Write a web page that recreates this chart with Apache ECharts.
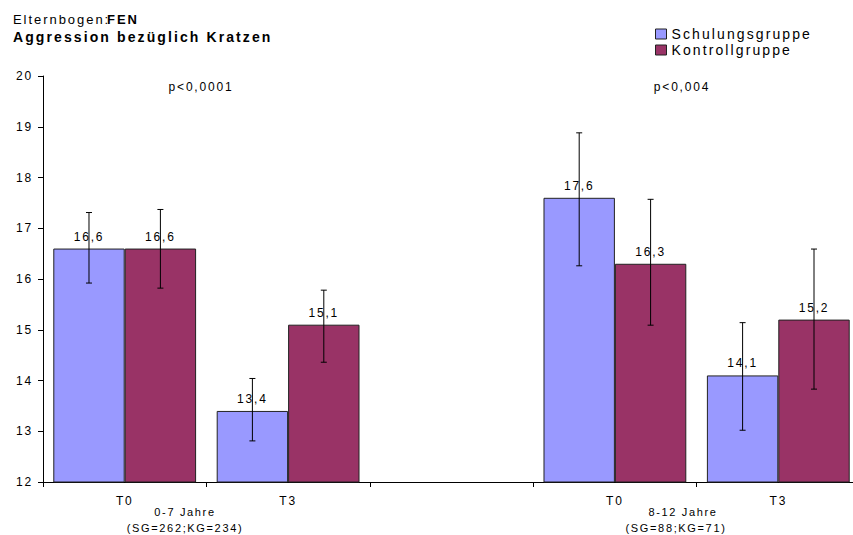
<!DOCTYPE html>
<html>
<head>
<meta charset="utf-8">
<script src="https://cdn.jsdelivr.net/npm/echarts@6/dist/echarts.min.js"></script>
<style>
  html, body { margin: 0; padding: 0; background: #fff; }
  #chart { width: 853px; height: 535px; }
  /* spaced-out lettering used throughout the chart */
  #chart text { letter-spacing: 0.15em; }
</style>
</head>
<body>
<div id="chart"></div>
<script>
// Time points per age group (blank slot separates the two groups)
const categories = ['T0', 'T3', '', 'T0', 'T3'];

// Mean scores
const sgMeans = [16.6, 13.4, null, 17.6, 14.1];   // Schulungsgruppe
const kgMeans = [16.6, 15.1, null, 16.3, 15.2];   // Kontrollgruppe

// Error bar ranges (lower / upper)
const sgLow  = [15.92, 12.81, null, 16.26, 13.02];
const sgHigh = [17.31, 14.04, null, 18.88, 15.14];
const kgLow  = [15.82, 14.36, null, 15.09, 13.83];
const kgHigh = [17.37, 15.78, null, 17.57, 16.59];

const seriesNames = ['Schulungsgruppe', 'Kontrollgruppe'];
const groupLabels = [
  ['0-7 Jahre', '(SG=262;KG=234)'],
  ['8-12 Jahre', '(SG=88;KG=71)']
];
const pValues = ['p<0,0001', 'p<0,004'];

const FONT = 'Liberation Sans, Arial, sans-serif';
const GAP_RATIO = 0.126;

function errData(lo, hi) {
  const out = [];
  lo.forEach((v, i) => { if (v != null) out.push([i, v, hi[i]]); });
  return out;
}

function errRenderer(sign) {
  return function (params, api) {
    const idx = api.value(0);
    const top = api.coord([idx, api.value(2)]);
    const bot = api.coord([idx, api.value(1)]);
    const band = api.size([1, 0])[0];
    const x = top[0] + sign * band * (1 - GAP_RATIO) / 4;
    const cap = 3;
    const style = { stroke: '#000', lineWidth: 1 };
    return {
      type: 'group',
      children: [
        { type: 'line', shape: { x1: x, y1: top[1], x2: x, y2: bot[1] }, style },
        { type: 'line', shape: { x1: x - cap, y1: top[1], x2: x + cap, y2: top[1] }, style },
        { type: 'line', shape: { x1: x - cap, y1: bot[1], x2: x + cap, y2: bot[1] }, style }
      ]
    };
  };
}

const valueLabel = {
  show: true,
  position: 'top',
  distance: 6,
  fontSize: 12,
  fontFamily: FONT,
  color: '#000',
  formatter: p => String(p.value).replace('.', ',')
};

function txt(x, y, text, size, weight, align) {
  return {
    type: 'text', x, y,
    style: {
      text, fontSize: size, fontWeight: weight || 'normal', fill: '#000',
      align: align || 'center', verticalAlign: 'middle', fontFamily: FONT
    }
  };
}

const chart = echarts.init(document.getElementById('chart'), null, { renderer: 'svg' });

chart.setOption({
  animation: false,
  backgroundColor: '#fff',
  textStyle: { fontFamily: FONT },
  legend: {
    orient: 'vertical',
    left: 650, top: 22,
    itemWidth: 11, itemHeight: 10, itemGap: 2,
    icon: 'rect',
    itemStyle: { borderColor: '#222', borderWidth: 1 },
    textStyle: { fontSize: 14, lineHeight: 14, color: '#000', fontFamily: FONT },
    data: seriesNames
  },
  grid: { left: 43, top: 76, width: 817, bottom: 53, containLabel: false, outerBoundsMode: 'none' },
  xAxis: {
    type: 'category',
    data: categories,
    boundaryGap: true,
    axisLine: { lineStyle: { color: '#000', width: 1 } },
    axisTick: { show: true, length: 5, alignWithLabel: false, lineStyle: { color: '#000' } },
    axisLabel: { fontSize: 12, color: '#000', margin: 13, interval: 0 },
    splitLine: { show: false }
  },
  yAxis: {
    type: 'value',
    min: 12, max: 20, interval: 1,
    axisLine: { show: true, lineStyle: { color: '#000', width: 1 } },
    axisTick: { show: true, length: 5, lineStyle: { color: '#000' } },
    axisLabel: { fontSize: 12, color: '#000', margin: 10 },
    splitLine: { show: false }
  },
  graphic: [
    // heading
    txt(13, 19, 'Elternbogen:', 13, 'normal', 'left'),
    txt(107, 19, 'FEN', 13, 'bold', 'left'),
    txt(13, 37, 'Aggression bezüglich Kratzen', 14, 'bold', 'left'),
    // significance notes
    txt(201, 87, pValues[0], 12),
    txt(682, 87, pValues[1], 12),
    // age group captions under the axis
    txt(185, 512, groupLabels[0][0], 11),
    txt(185, 528, groupLabels[0][1], 11),
    txt(683, 512, groupLabels[1][0], 11),
    txt(676, 528, groupLabels[1][1], 11)
  ],
  series: [
    {
      name: seriesNames[0],
      type: 'bar',
      data: sgMeans.map(v => v == null ? '-' : v),
      barGap: '0%',
      barCategoryGap: (GAP_RATIO * 100) + '%',
      itemStyle: { color: '#9999FF', borderColor: '#222', borderWidth: 1 },
      label: valueLabel,
      z: 2
    },
    {
      name: seriesNames[1],
      type: 'bar',
      data: kgMeans.map(v => v == null ? '-' : v),
      barGap: '0%',
      barCategoryGap: (GAP_RATIO * 100) + '%',
      itemStyle: { color: '#993366', borderColor: '#222', borderWidth: 1 },
      label: valueLabel,
      z: 2
    },
    {
      type: 'custom',
      renderItem: errRenderer(-1),
      data: errData(sgLow, sgHigh),
      encode: { x: 0, y: [1, 2] },
      silent: true,
      z: 5
    },
    {
      type: 'custom',
      renderItem: errRenderer(1),
      data: errData(kgLow, kgHigh),
      encode: { x: 0, y: [1, 2] },
      silent: true,
      z: 5
    }
  ]
});
</script>
</body>
</html>
